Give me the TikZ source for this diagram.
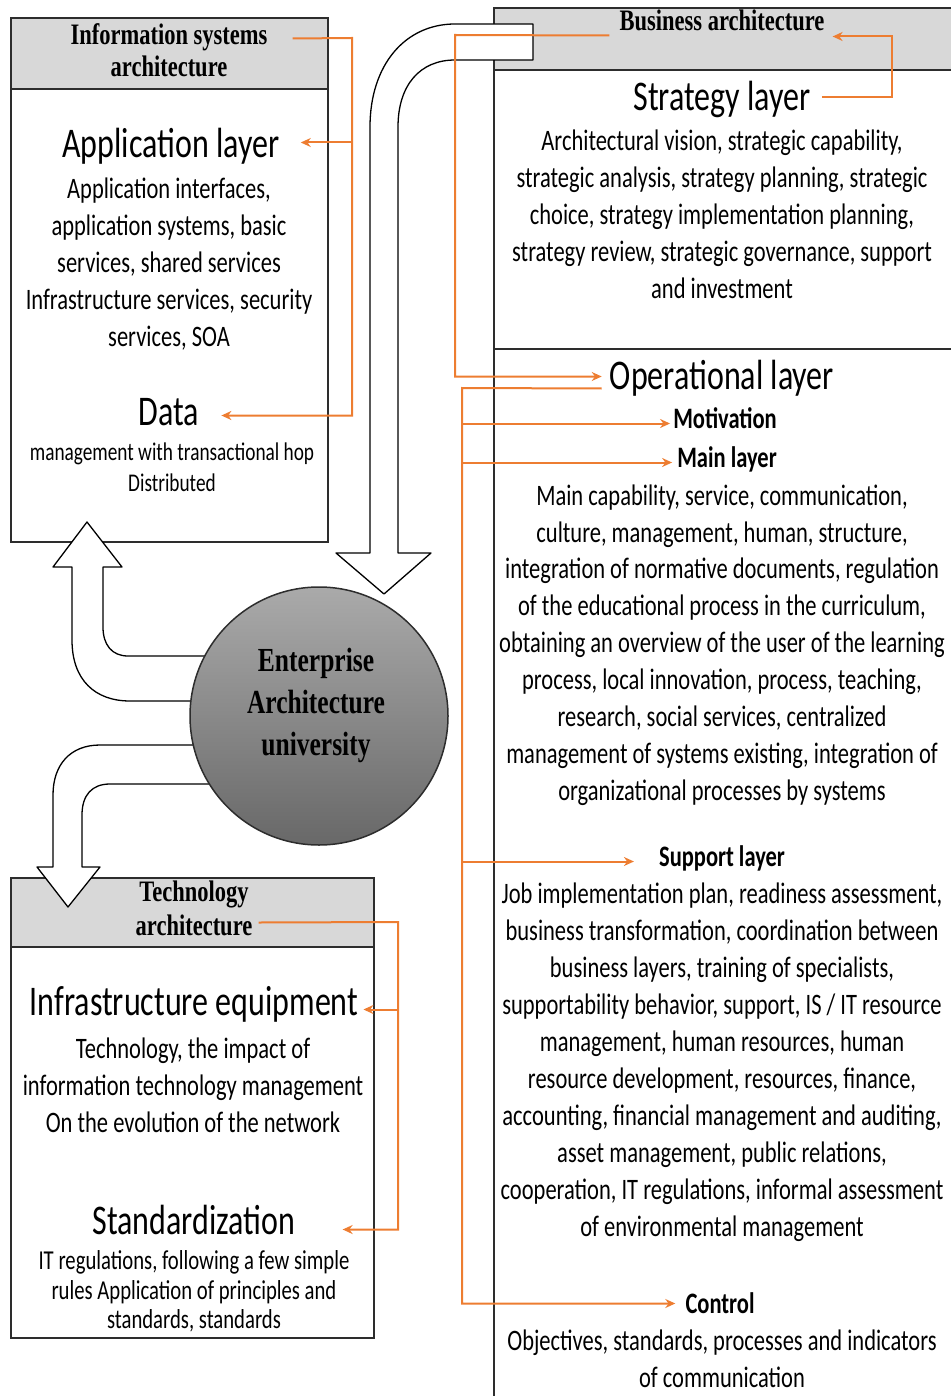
\documentclass[tikz,border=0pt]{standalone}
\usepackage{fontspec}
\setmainfont{Carlito}
\newfontfamily\serifbf{Liberation Serif}
\usepackage{graphicx}
\usetikzlibrary{arrows.meta,positioning,calc}
\definecolor{linkorange}{RGB}{237,125,49}
\definecolor{bandgray}{RGB}{216,216,216}
\definecolor{framegray}{RGB}{45,45,45}
\definecolor{hubtop}{RGB}{170,170,170}
\definecolor{hubbottom}{RGB}{104,104,104}
\newcommand{\tallt}[1]{\scalebox{1}[1.32]{\begin{tabular}{@{}c@{}}#1\end{tabular}}}

\begin{document}
\begin{tikzpicture}[
  x=1pt, y=-1pt,
  panel/.style={draw=framegray,line width=1.8pt},
  band/.style={panel,fill=bandgray},
  bigarrow/.style={draw=black,fill=white,line width=1.3pt,line join=round},
  hub/.style={circle,draw=framegray,line width=1.5pt,minimum size=258pt,inner sep=0pt,
              top color=hubtop,bottom color=hubbottom},
  wire/.style={draw=linkorange,line width=2pt},
  tip/.style={wire,-{Stealth[length=10pt,width=9pt]}},
  txt/.style={inner sep=0pt,yshift=-2.5pt},
  title/.style={txt,font=\serifbf\bfseries\fontsize{22.5}{24}\selectfont},
  heading/.style={txt,font=\fontsize{32}{38}\selectfont},
  sub/.style={txt,font=\bfseries\fontsize{22.5}{28}\selectfont},
  body/.style={txt,font=\fontsize{22.5}{28}\selectfont},
  small/.style={txt,font=\fontsize{19.3}{23.5}\selectfont},
]
\useasboundingbox (0,0) rectangle (950,1396);

% frames
\draw[band]  (11,18) rectangle (328,89);
\draw[panel] (11,89) rectangle (328,542);
\draw[band]  (494,8) rectangle (960,70);
\draw[panel] (494,70) -- (494,1400);
\draw[panel] (494,349) -- (960,349);
\draw[band]  (11,878) rectangle (374,947);
\draw[panel] (11,947) rectangle (374,1338);

% hollow block arrows
\draw[bigarrow] (533,24) -- (455,24) .. controls (405,24) and (370,65) .. (370,127)
  -- (370,553) -- (336,553) -- (384,594) -- (431,553) -- (398,553) -- (398,127)
  .. controls (398,85) and (420,60) .. (455,60) -- (533,60) -- cycle;
\draw[bigarrow] (230,656) -- (128,656) .. controls (112,656) and (103,645) .. (103,627)
  -- (103,567) -- (122,567) -- (87,522) -- (53,567) -- (72,567) -- (72,640)
  .. controls (72,680) and (95,701) .. (130,701) -- (230,701) -- cycle;
\draw[bigarrow] (230,745) -- (100,745) .. controls (70,745) and (53,765) .. (53,795)
  -- (53,867) -- (37,867) -- (68,907) -- (100,867) -- (82,867) -- (82,815)
  .. controls (82,795) and (92,784) .. (110,784) -- (230,784) -- cycle;

\node[hub] (eau) at (319,716) {};
\node[title,font=\serifbf\bfseries\fontsize{25.5}{31.8}\selectfont] (eaut) at (316,703)
  {\tallt{Enterprise\\Architecture\\university}};

% information systems
\node[title] (isat) at (169,52) {\tallt{Information systems\\architecture}};
\node[heading] (appl) at (171,145) {\tallt{Application layer}};
\node[body] (appb) at (169,263) {\tallt{Application interfaces,\\application systems, basic\\services, shared services\\Infrastructure services, security\\services, SOA}};
\node[heading] (datal) at (169,413) {\tallt{Data}};
\node[small] (datab) at (172,467) {\tallt{management with transactional hop\\Distributed}};

% business
\node[title] (busl) at (722,22) {\tallt{Business architecture}};
\node[heading] (strl) at (722,98) {\tallt{Strategy layer}};
\node[body] (strb) at (722,215) {\tallt{Architectural vision, strategic capability,\\strategic analysis, strategy planning, strategic\\choice, strategy implementation planning,\\strategy review, strategic governance, support\\and investment}};
\node[heading] (opl) at (722,377) {\tallt{Operational layer}};
\node[sub] (mot) at (725,419) {\tallt{Motivation}};
\node[sub] (mainl) at (727,458) {\tallt{Main layer}};
\node[body] (mainb) at (722,643) {\tallt{Main capability, service, communication,\\culture, management, human, structure,\\integration of normative documents, regulation\\of the educational process in the curriculum,\\obtaining an overview of the user of the learning\\process, local innovation, process, teaching,\\research, social services, centralized\\management of systems existing, integration of\\organizational processes by systems}};
\node[sub] (supl) at (722,857) {\tallt{Support layer}};
\node[body] (supb) at (722,1060) {\tallt{Job implementation plan, readiness assessment,\\business transformation, coordination between\\business layers, training of specialists,\\supportability behavior, support, IS / IT resource\\management, human resources, human\\resource development, resources, finance,\\accounting, financial management and auditing,\\asset management, public relations,\\cooperation, IT regulations, informal assessment\\of environmental management}};
\node[sub] (ctl) at (720,1304) {\tallt{Control}};
\node[body] (ctlb) at (722,1359) {\tallt{Objectives, standards, processes and indicators\\of communication}};

% technology
\node[title,font=\serifbf\bfseries\fontsize{22.5}{26.5}\selectfont] (tecl) at (194,909) {\tallt{Technology\\architecture}};
\node[heading] (infl) at (194,1003) {\tallt{Infrastructure equipment}};
\node[body] (infb) at (193,1086) {\tallt{Technology, the impact of\\information technology management\\On the evolution of the network}};
\node[heading] (stdl) at (194,1222) {\tallt{Standardization}};
\node[small,font=\fontsize{20.7}{22.4}\selectfont] (stdb) at (194,1291) {\tallt{IT regulations, following a few simple\\rules Application of principles and\\standards, standards}};

% orange links
\coordinate (isabus) at (352,38);
\draw[tip] ([shift={(25,-16)}]isat.east) -- (isabus) |- ([xshift=22]datal.east);
\draw[tip] ($(isabus |- appl.east)+(0,-5)$) -- ([shift={(21,-5)}]appl.east);

\coordinate (busbus) at (455,35);
\draw[tip] ([shift={(-10,11)}]busl.west) -- (busbus) |- ([shift={(-8,-3)}]opl.west);
\draw[tip] ([shift={(11,-3)}]strl.east) -- ++(70,0) |- ([shift={(8,12)}]busl.east);

\coordinate (opbus) at (462,388);
\draw[tip] ([shift={(-8,9)}]opl.west) -- (opbus) |- ([shift={(-10,-3)}]ctl.west);
\foreach \n/\dx in {mot/-3,mainl/-5,supl/-25}
  \draw[tip] ($(opbus |- \n.west)+(0,2)$) -- ([shift={(\dx,2)}]\n.west);

\coordinate (tecbus) at (398,922);
\draw[tip] ([shift={(6,11)}]tecl.east) -- (tecbus) |- ([shift={(47,5)}]stdl.east);
\draw[tip] ($(tecbus |- infl.east)+(0,4)$) -- ([shift={(5,4)}]infl.east);
\end{tikzpicture}
\end{document}
